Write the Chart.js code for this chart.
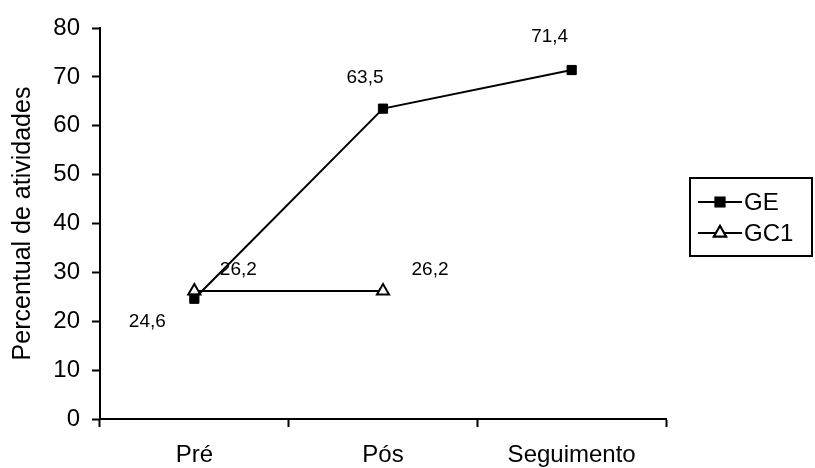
<!DOCTYPE html>
<html>
<head>
<meta charset="utf-8">
<script src="https://cdn.jsdelivr.net/npm/chart.js@4/dist/chart.umd.min.js"></script>
<style>
  html, body { margin: 0; padding: 0; background: #fff; }
  #wrap { width: 815px; height: 468px; }
</style>
</head>
<body>
<div id="wrap"><canvas id="c" width="815" height="468"></canvas></div>
<script>
const categories = ['Pré', 'Pós', 'Seguimento'];
const geValues = [24.6, 63.5, 71.4];
const gc1Values = [26.2, 26.2, null];
const yTicks = [0, 10, 20, 30, 40, 50, 60, 70, 80];
const seriesNames = ['GE', 'GC1'];
const yTitle = 'Percentual de atividades';

const FONT = '"Liberation Sans", Arial, sans-serif';
const fmt = v => v.toFixed(1).replace('.', ',');

// value labels: GE sits left/above-left, GC1 above-right
const labelOffsets = {
  0: [[-47, 23], [-18, -31], [-22, -33]],
  1: [[44, -21], [47, -21], [0, 0]]
};

const valueLabels = {
  id: 'valueLabels',
  afterDatasetsDraw(chart) {
    const ctx = chart.ctx;
    ctx.save();
    ctx.font = '19px ' + FONT;
    ctx.fillStyle = '#000';
    ctx.textAlign = 'center';
    ctx.textBaseline = 'middle';
    chart.data.datasets.forEach((ds, di) => {
      const meta = chart.getDatasetMeta(di);
      meta.data.forEach((pt, i) => {
        const v = ds.data[i];
        if (v === null || v === undefined) return;
        const [dx, dy] = labelOffsets[di][i];
        ctx.fillText(fmt(v), pt.x + dx, pt.y + dy);
      });
    });
    ctx.restore();
  }
};

const boxedLegend = {
  id: 'boxedLegend',
  afterDraw(chart) {
    const ctx = chart.ctx;
    const x0 = 690, y0 = 178, w = 122, h = 78;
    ctx.save();
    ctx.strokeStyle = '#000';
    ctx.lineWidth = 2;
    ctx.strokeRect(x0, y0, w, h);
    ctx.font = '24px ' + FONT;
    ctx.textBaseline = 'middle';
    ctx.textAlign = 'left';
    chart.data.datasets.forEach((ds, i) => {
      const cy = y0 + 24 + i * 31;
      ctx.beginPath();
      ctx.moveTo(698, cy);
      ctx.lineTo(742, cy);
      ctx.lineWidth = 2;
      ctx.strokeStyle = '#000';
      ctx.stroke();
      Chart.helpers.drawPoint(ctx, {
        pointStyle: ds.pointStyle,
        radius: ds.pointRadius,
        borderWidth: ds.pointBorderWidth
      }, 720, cy);
      ctx.fillStyle = ds.pointBackgroundColor;
      ctx.strokeStyle = '#000';
      ctx.lineWidth = ds.pointBorderWidth;
      ctx.fill();
      ctx.stroke();
      ctx.fillStyle = '#000';
      ctx.fillText(ds.label, 744, cy + 1);
    });
    ctx.restore();
  }
};

new Chart(document.getElementById('c'), {
  type: 'line',
  data: {
    labels: categories,
    datasets: [
      {
        label: seriesNames[0],
        data: geValues,
        borderColor: '#000',
        borderWidth: 2,
        pointStyle: 'rect',
        pointRadius: 6.5,
        pointBorderWidth: 1,
        pointBackgroundColor: '#000',
        pointBorderColor: '#000',
        tension: 0,
        spanGaps: false
      },
      {
        label: seriesNames[1],
        data: gc1Values,
        borderColor: '#000',
        borderWidth: 2,
        pointStyle: 'triangle',
        pointRadius: 7,
        pointBorderWidth: 2,
        pointBackgroundColor: '#fff',
        pointBorderColor: '#000',
        tension: 0,
        spanGaps: false
      }
    ]
  },
  options: {
    responsive: false,
    animation: false,
    devicePixelRatio: 1,
    layout: { padding: { top: 28, right: 149, bottom: 0, left: 0 } },
    plugins: {
      legend: { display: false },
      tooltip: { enabled: false }
    },
    scales: {
      x: {
        offset: true,
        grid: {
          offset: true,
          drawOnChartArea: false,
          drawTicks: true,
          tickLength: 8,
          tickWidth: 2,
          tickColor: '#000'
        },
        border: { color: '#000', width: 2 },
        ticks: {
          color: '#000',
          font: { family: FONT, size: 24 },
          padding: 14,
          maxRotation: 0
        },
        afterFit(scale) { scale.height = 49; }
      },
      y: {
        min: 0,
        max: 80,
        afterBuildTicks(scale) { scale.ticks = yTicks.map(v => ({ value: v })); },
        grid: {
          drawOnChartArea: false,
          drawTicks: true,
          tickLength: 8,
          tickWidth: 2,
          tickColor: '#000'
        },
        border: { color: '#000', width: 2 },
        ticks: {
          color: '#000',
          font: { family: FONT, size: 24 },
          padding: 12
        },
        title: {
          display: true,
          text: yTitle,
          color: '#000',
          font: { family: FONT, size: 25 },
          padding: { top: 8, bottom: 0 }
        },
        afterFit(scale) { scale.width = 100; }
      }
    }
  },
  plugins: [valueLabels, boxedLegend]
});
</script>
</body>
</html>
